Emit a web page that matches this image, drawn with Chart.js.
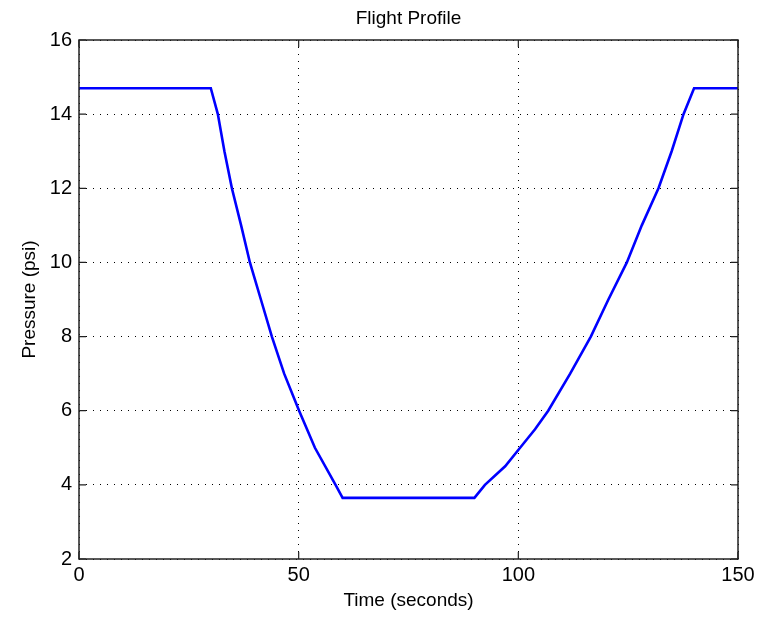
<!DOCTYPE html>
<html>
<head>
<meta charset="utf-8">
<script src="https://cdn.jsdelivr.net/npm/chart.js@4/dist/chart.umd.min.js"></script>
<style>
html,body{margin:0;padding:0;background:#fff;}
#wrap{width:771px;height:617px;position:relative;}
</style>
</head>
<body>
<div id="wrap"><canvas id="c"></canvas></div>
<script>
// Data
const timeSeconds = [0, 30, 31.6, 33.1, 34.8, 36.9, 38.9, 41.4, 43.9, 46.7, 50.1, 53.7, 58.4, 60,
                     90, 92.4, 97.0, 100.4, 103.8, 106.8, 111.8, 116.5, 120.5, 124.7, 128.1, 131.9, 134.9, 137.6, 140, 150];
const pressurePsi = [14.7, 14.7, 14.0, 13.0, 12.0, 11.0, 10.0, 9.0, 8.0, 7.0, 6.0, 5.0, 4.0, 3.65,
                     3.65, 4.0, 4.5, 5.0, 5.5, 6.0, 7.0, 8.0, 9.0, 10.0, 11.0, 12.0, 13.0, 14.0, 14.7, 14.7];
const xTicks = [0, 50, 100, 150];
const yTicks = [2, 4, 6, 8, 10, 12, 14, 16];
const chartTitle = 'Flight Profile';
const xLabel = 'Time (seconds)';
const yLabel = 'Pressure (psi)';

const points = timeSeconds.map((t, i) => ({x: t, y: pressurePsi[i]}));

const tickFont = {family: "'Liberation Sans', Arial, sans-serif", size: 20};
const labelFont = {family: "'Liberation Sans', Arial, sans-serif", size: 19};

const framePlugin = {
  id: 'frame',
  afterDraw(chart) {
    const {ctx, chartArea: a, scales} = chart;
    ctx.save();
    ctx.strokeStyle = '#222';
    ctx.lineWidth = 1.5;
    ctx.setLineDash([]);
    ctx.strokeRect(a.left, a.top, a.right - a.left, a.bottom - a.top);
    const L = 7;
    ctx.lineWidth = 1.2;
    ctx.beginPath();
    xTicks.forEach(v => {
      const px = scales.x.getPixelForValue(v);
      ctx.moveTo(px, a.bottom); ctx.lineTo(px, a.bottom - L);
      ctx.moveTo(px, a.top); ctx.lineTo(px, a.top + L);
    });
    yTicks.forEach(v => {
      const py = scales.y.getPixelForValue(v);
      ctx.moveTo(a.left, py); ctx.lineTo(a.left + L, py);
      ctx.moveTo(a.right, py); ctx.lineTo(a.right - L, py);
    });
    ctx.stroke();
    ctx.restore();
  }
};

new Chart(document.getElementById('c'), {
  type: 'line',
  data: {
    datasets: [{
      data: points,
      borderColor: '#0000ff',
      borderWidth: 2.6,
      pointRadius: 0,
      tension: 0,
      fill: false
    }]
  },
  options: {
    responsive: true,
    maintainAspectRatio: false,
    animation: false,
    layout: {padding: {left: 0, right: 33, top: 0, bottom: 0}},
    plugins: {
      legend: {display: false},
      tooltip: {enabled: false},
      title: {
        display: true,
        fullSize: false,
        text: chartTitle,
        color: '#000',
        font: {family: labelFont.family, size: 19, weight: 'normal'},
        padding: {top: 7.6, bottom: 9.6}
      }
    },
    scales: {
      x: {
        type: 'linear',
        min: 0, max: 150,
        afterFit(s) { s.height = 58; },
        afterBuildTicks(s) { s.ticks = xTicks.map(v => ({value: v})); },
        ticks: {color: '#000', font: tickFont, padding: 4, maxRotation: 0, autoSkip: false},
        grid: {color: '#000', lineWidth: 1, drawTicks: false, borderDash: [1, 6]},
        border: {display: false, dash: [1, 6]},
        title: {display: true, text: xLabel, color: '#000', font: labelFont, padding: {top: 0, bottom: 4.5}}
      },
      y: {
        type: 'linear',
        min: 2, max: 16,
        afterFit(s) { s.width = 79; },
        afterBuildTicks(s) { s.ticks = yTicks.map(v => ({value: v})); },
        ticks: {color: '#000', font: tickFont, padding: 7, autoSkip: false},
        grid: {color: '#000', lineWidth: 1, drawTicks: false, borderDash: [1, 6]},
        border: {display: false, dash: [1, 6]},
        title: {display: true, text: yLabel, color: '#000', font: labelFont, padding: {top: 18.5, bottom: 0}}
      }
    }
  },
  plugins: [framePlugin]
});
</script>
</body>
</html>
